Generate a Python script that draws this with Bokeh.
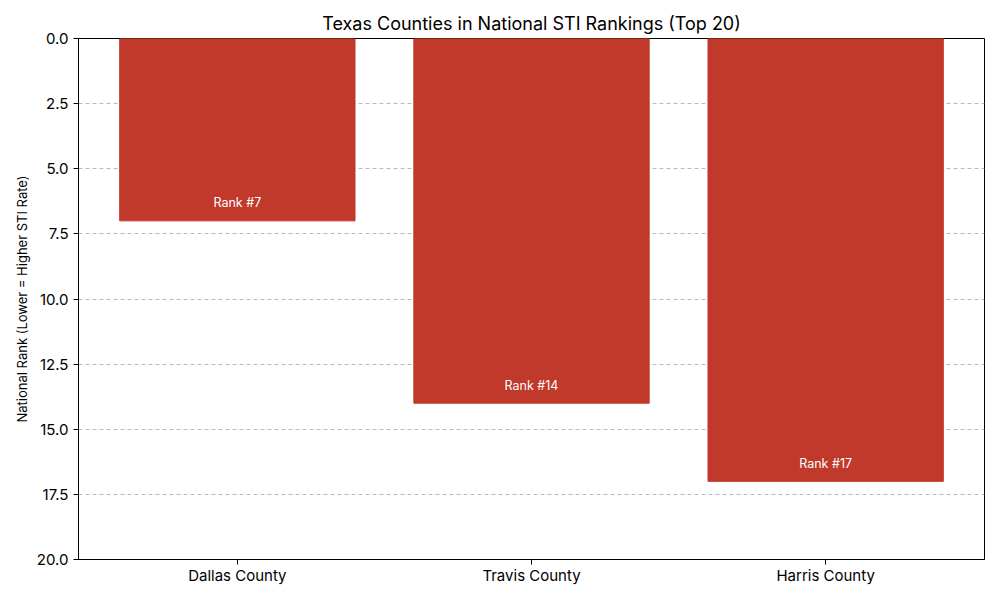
from bokeh.plotting import figure
from bokeh.models import Range1d, FixedTicker, ColumnDataSource, NumeralTickFormatter
from bokeh.embed import file_html
from bokeh.resources import INLINE

counties = ["Dallas County", "Travis County", "Harris County"]
ranks = [7, 14, 17]
y_ticks = [0, 2.5, 5, 7.5, 10, 12.5, 15, 17.5, 20]

FONT = "Inter"
BAR_COLOR = "#c0392b"

idx = list(range(len(counties)))
src = ColumnDataSource(dict(
    x=idx,
    rank=ranks,
    zero=[0] * len(ranks),
    label_y=[r - 0.4 for r in ranks],
    label=[f"Rank #{r}" for r in ranks],
))

p = figure(
    width=1000, height=600,
    output_backend="svg", toolbar_location=None,
    x_range=Range1d(-0.54, 2.54), y_range=Range1d(20, 0),
    title="Texas Counties in National STI Rankings (Top 20)",
    min_border_left=78, min_border_right=16, min_border_top=38, min_border_bottom=41,
)

p.vbar(x="x", top="zero", bottom="rank", width=0.8, color=BAR_COLOR, source=src)
p.text(x="x", y="label_y", text="label", source=src,
       text_align="center", text_baseline="bottom",
       text_color="white", text_font_size="12.5px", text_font={"value": FONT})

# title
p.title.align = "center"
p.title.text_font = FONT
p.title.text_font_size = "18px"
p.title.text_font_style = "normal"
p.title.text_color = "black"

# frame
p.outline_line_color = "black"
p.outline_line_width = 1
p.background_fill_color = "white"
p.border_fill_color = "white"

# x axis
p.xaxis.ticker = FixedTicker(ticks=idx)
p.xaxis.major_label_overrides = {i: c for i, c in zip(idx, counties)}
p.xaxis.major_label_text_font = FONT
p.xaxis.major_label_text_font_size = "15px"
p.xaxis.major_label_text_color = "black"
p.xaxis.major_label_standoff = 1
p.xaxis.minor_tick_line_color = None
p.xaxis.major_tick_out = 5
p.xaxis.major_tick_in = 0
p.xaxis.axis_line_color = "black"

# y axis
p.yaxis.ticker = FixedTicker(ticks=y_ticks)
p.yaxis.formatter = NumeralTickFormatter(format="0.0")
p.yaxis.major_label_text_font = FONT
p.yaxis.major_label_text_font_size = "15px"
p.yaxis.major_label_text_color = "black"
p.yaxis.minor_tick_line_color = None
p.yaxis.major_tick_out = 5
p.yaxis.major_tick_in = 0
p.yaxis.axis_label = "National Rank (Lower = Higher STI Rate)"
p.yaxis.axis_label_text_font = FONT
p.yaxis.axis_label_text_font_size = "13px"
p.yaxis.axis_label_text_font_style = "normal"
p.yaxis.axis_label_text_color = "black"
p.yaxis.axis_label_standoff = 4

# grid
p.xgrid.grid_line_color = None
p.ygrid.grid_line_color = "#bbbbbb"
p.ygrid.grid_line_dash = "4 3"
p.ygrid.grid_line_width = 1

open("out.html", "w").write(file_html(p, INLINE))
